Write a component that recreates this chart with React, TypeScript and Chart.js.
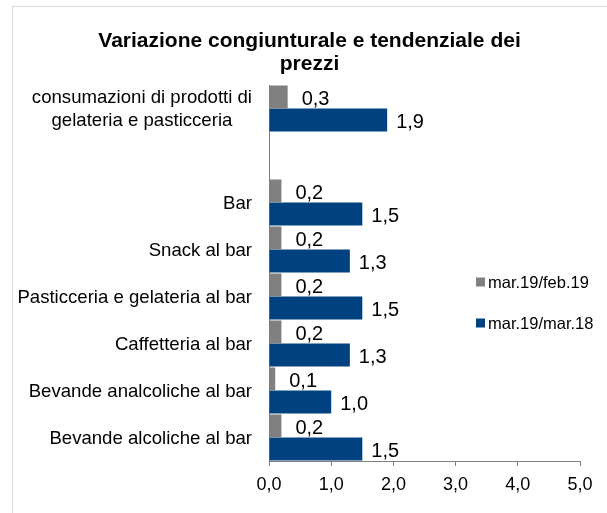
import React, { useEffect, useRef } from 'react';
import { Chart, registerables } from 'chart.js';

Chart.register(...registerables);

const titleLines = ['Variazione congiunturale e tendenziale dei', 'prezzi'];
const categories: (string | string[])[] = [
  ['consumazioni di prodotti di', 'gelateria e pasticceria'],
  '',
  'Bar',
  'Snack al bar',
  'Pasticceria e gelateria al bar',
  'Caffetteria al bar',
  'Bevande analcoliche al bar',
  'Bevande alcoliche al bar',
];
const seriesNames = ['mar.19/feb.19', 'mar.19/mar.18'];
const congiunturale = [0.3, null, 0.2, 0.2, 0.2, 0.2, 0.1, 0.2];
const tendenziale = [1.9, null, 1.5, 1.3, 1.5, 1.3, 1.0, 1.5];
const xMin = 0;
const xMax = 5;
const xStep = 1;
const colors = ['#808080', '#00427F'];

const FONT = '"Liberation Sans", Arial, Helvetica, sans-serif';
const fmt = (v: number) => v.toFixed(1).replace('.', ',');

const decorPlugin = {
  id: 'decor',
  beforeDraw(chart: any) {
    const ctx = chart.ctx;
    ctx.save();
    ctx.fillStyle = '#ffffff';
    ctx.fillRect(0, 0, chart.width, chart.height);
    ctx.strokeStyle = '#d9d9d9';
    ctx.lineWidth = 1;
    ctx.beginPath();
    ctx.moveTo(12.5, chart.height);
    ctx.lineTo(12.5, 6.5);
    ctx.lineTo(chart.width, 6.5);
    ctx.stroke();
    ctx.restore();
  },
  afterDatasetsDraw(chart: any) {
    const ctx = chart.ctx;
    ctx.save();
    ctx.font = `20px ${FONT}`;
    ctx.fillStyle = '#000';
    ctx.textAlign = 'left';
    ctx.textBaseline = 'middle';
    const offsets = [14, 9];
    chart.data.datasets.forEach((ds: any, di: number) => {
      const meta = chart.getDatasetMeta(di);
      meta.data.forEach((el: any, i: number) => {
        const v = ds.data[i];
        if (v === null || v === undefined) return;
        ctx.fillText(fmt(v), el.x + offsets[di], el.y + 2);
      });
    });
    ctx.restore();
  },
  afterDraw(chart: any) {
    const ctx = chart.ctx;
    ctx.save();
    ctx.font = `bold 21px ${FONT}`;
    ctx.fillStyle = '#000';
    ctx.textAlign = 'center';
    ctx.textBaseline = 'middle';
    const cx = (12 + chart.width) / 2;
    titleLines.forEach((t, i) => ctx.fillText(t, cx, 41 + i * 23));

    const ys = chart.scales.y;
    const rightEdge = ys.right - 17;
    ctx.font = `18.6px ${FONT}`;
    categories.forEach((lab, i) => {
      const py = ys.getPixelForValue(i);
      if (Array.isArray(lab)) {
        const w = Math.max(...lab.map((l) => ctx.measureText(l).width));
        const lx = rightEdge - w / 2;
        const lh = 23;
        ctx.textAlign = 'center';
        lab.forEach((l, k) => {
          ctx.fillText(l, lx, py + 1 + (k - (lab.length - 1) / 2) * lh);
        });
      } else if (lab) {
        ctx.textAlign = 'right';
        ctx.fillText(lab, rightEdge, py + 1);
      }
    });

    ctx.font = `16.5px ${FONT}`;
    ctx.textAlign = 'left';
    const lx = 476;
    const lys = [282, 323];
    seriesNames.forEach((n, i) => {
      ctx.fillStyle = colors[i];
      ctx.fillRect(lx, lys[i] - 4.5, 9, 9);
      ctx.fillStyle = '#000';
      ctx.fillText(n, lx + 12, lys[i] + 1);
    });
    ctx.restore();
  },
};

export default function App() {
  const ref = useRef<HTMLCanvasElement | null>(null);
  useEffect(() => {
    if (!ref.current) return;
    const chart = new Chart(ref.current, {
      type: 'bar',
      data: {
        labels: categories as any,
        datasets: [
          {
            label: seriesNames[0],
            data: congiunturale as any,
            backgroundColor: colors[0],
            categoryPercentage: 0.98,
            barPercentage: 1,
          },
          {
            label: seriesNames[1],
            data: tendenziale as any,
            backgroundColor: colors[1],
            categoryPercentage: 0.98,
            barPercentage: 1,
          },
        ],
      },
      options: {
        indexAxis: 'y',
        responsive: false,
        animation: false,
        devicePixelRatio: 1,
        layout: { padding: { top: 85, right: 27, left: 0, bottom: 0 } },
        plugins: {
          legend: { display: false },
          title: { display: false },
          tooltip: { enabled: false },
        },
        scales: {
          x: {
            type: 'linear',
            min: xMin,
            max: xMax,
            ticks: {
              stepSize: xStep,
              callback: (v: any) => fmt(Number(v)),
              color: '#000',
              font: { family: FONT, size: 18 },
              padding: 8,
              maxRotation: 0,
            },
            grid: {
              display: true,
              drawOnChartArea: false,
              drawTicks: true,
              tickLength: 5,
              color: '#808080',
            },
            border: { display: true, color: '#808080', width: 1 },
            afterFit: (s: any) => {
              s.height = 52;
            },
          },
          y: {
            type: 'category',
            ticks: { display: false },
            grid: { display: false },
            border: { display: true, color: '#808080', width: 1 },
            afterFit: (s: any) => {
              s.width = 269;
            },
          },
        },
      },
      plugins: [decorPlugin],
    });
    return () => chart.destroy();
  }, []);
  return (
    <div style={{ position: 'fixed', left: 0, top: 0, width: 607, height: 513, background: '#fff' }}>
      <canvas ref={ref} width={607} height={513} style={{ width: 607, height: 513, display: 'block' }} />
    </div>
  );
}
